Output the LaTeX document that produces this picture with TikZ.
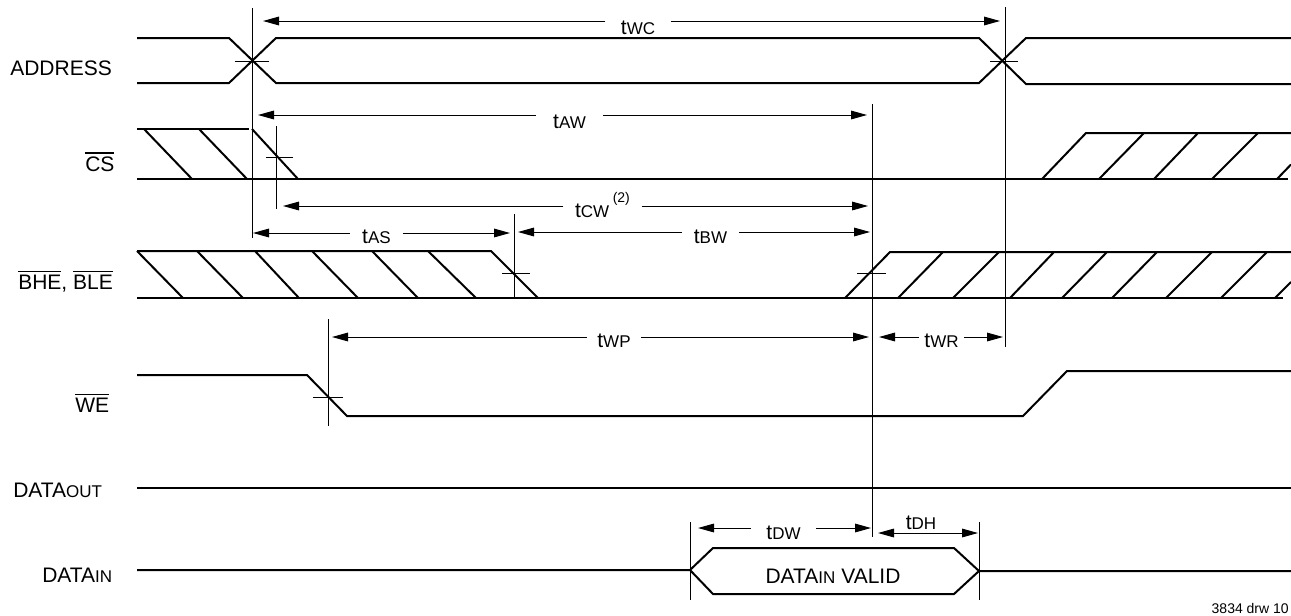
\documentclass[tikz,border=0pt]{standalone}
\usepackage{fontspec}
\setmainfont{Liberation Sans}
\usetikzlibrary{arrows.meta}
\newcommand\mainsz{\fontsize{15.75}{18}\selectfont}
\newcommand\sub[1]{{\fontsize{12.75}{14}\selectfont #1}}
\newcommand\ovl[1]{\begingroup\setbox0\hbox{#1}\rlap{\rule[\dimexpr\ht0+2pt\relax]{\wd0}{1pt}}\box0\endgroup}
\begin{document}
\begin{tikzpicture}[x=0.75pt,y=-0.75pt,
  sig/.style={line width=1.5pt},
  fine/.style={line width=0.75pt},
  arr/.style={fine,-{Triangle[length=12pt,width=6.5pt]}},
  arrb/.style={fine,{Triangle[length=12pt,width=6.5pt]}-{Triangle[length=12pt,width=6.5pt]}},
  lab/.style={inner sep=0,font=\mainsz,anchor=base west},
  dim/.style={inner ysep=0,anchor=base,font=\mainsz}]
\useasboundingbox (0,0) rectangle (1291,615);

% ---- labels
\node[lab] (lAddr) at (10,75) {ADDRESS};
\node[lab] (lCS) at (85,171) {\ovl{CS}};
\node[lab] (lBHE) at (18,289) {\ovl{BHE}, \ovl{BLE}};
\node[lab] (lWE) at (75,412) {\ovl{WE}};
\node[lab] (lDO) at (13,497) {DATA\sub{OUT}};
\node[lab] (lDI) at (42,582) {DATA\sub{IN}};

% ---- ADDRESS
\draw[sig] (137,38)--(229,38)--(276,83)--(979,83)--(1026,38)--(1291,38);
\draw[sig] (137,83)--(229,83)--(276,38)--(979,38)--(1026,84)--(1291,84);
\draw[fine] (235,61)--(269,61);
\draw[fine] (990,61)--(1018,61);

% ---- CS
\draw[sig] (137,129)--(249,129);
\draw[sig] (144,129)--(192,179);
\draw[sig] (199,129)--(247,179);
\draw[sig] (252,129)--(298,179);
\draw[sig] (137,179)--(1288,179);
\draw[sig] (1042,179)--(1086,133)--(1291,133);
\draw[sig] (1099,179)--(1144,133);
\draw[sig] (1154,179)--(1198,133);
\draw[sig] (1212,179)--(1258,133);
\draw[sig] (1277,179)--(1291,164.5);
\draw[fine] (266,157)--(293,157);

% ---- BHE, BLE
\draw[sig] (137,251)--(491,251)--(538,298);
\foreach \a/\b in {137/183,197/243,255/299,312/358,372/418,428/476}
  \draw[sig] (\a,251)--(\b,298);
\draw[sig] (137,298)--(1283,298);
\draw[sig] (845,298)--(890,252)--(1291,252);
\foreach \a/\b in {898/943,953/999,1010/1054,1062/1107,1112/1157,1166/1212,1221/1267}
  \draw[sig] (\a,298)--(\b,252);
\draw[sig] (1275,298)--(1291,282);
\draw[fine] (502,273)--(530,273);
\draw[fine] (857,273)--(886,273);

% ---- WE
\draw[sig] (137,375)--(307,375)--(347,416)--(1023,416)--(1067,371)--(1291,371);
\draw[fine] (313,397)--(343,397);

% ---- DATA OUT
\draw[sig] (137,488)--(1291,488);

% ---- DATA IN
\draw[sig] (137,570)--(690,570)--(713,548)--(954,548)--(979,571)--(1291,571);
\draw[sig] (690,570)--(713,594)--(954,594)--(979,571);
\node[dim,inner xsep=0] (valid) at (833,583) {DATA\sub{IN} VALID};

% ---- reference verticals
\draw[fine] (252,8)--(252,238);
\draw[fine] (1005,7)--(1005,347);
\draw[fine] (276,126)--(276,209);
\draw[fine] (872,104)--(872,537);
\draw[fine] (514,214)--(514,297);
\draw[fine] (328,319)--(328,426);
\draw[fine] (690,522)--(690,600);
\draw[fine] (979,522)--(979,600);

% ---- dimension arrows
\coordinate (wcL) at (263,21);   \coordinate (wcR) at (1000,21);
\node[dim,inner xsep=11.6pt] (twc) at (638,34) {t\sub{WC}};
\draw[arr] (twc.west|-wcL)--(wcL);
\draw[arr] (twc.east|-wcR)--(wcR);

\coordinate (awL) at (258,115);  \coordinate (awR) at (867,115);
\node[dim,inner xsep=12.7pt] (taw) at (569.5,128) {t\sub{AW}};
\draw[arr] (taw.west|-awL)--(awL);
\draw[arr] (taw.east|-awR)--(awR);

\coordinate (cwL) at (283,206);  \coordinate (cwR) at (868,206);
\node[dim,inner xsep=8.6pt] (tcw) at (602.5,217) {t\sub{CW}\,\raisebox{11pt}{\fontsize{10.5}{12}\selectfont(2)}};
\draw[arr] (tcw.west|-cwL)--(cwL);
\draw[arr] (tcw.east|-cwR)--(cwR);

\coordinate (asL) at (253,233);  \coordinate (asR) at (510,233);
\node[dim,inner xsep=9.2pt] (tas) at (376.5,243) {t\sub{AS}};
\draw[arr] (tas.west|-asL)--(asL);
\draw[arr] (tas.east|-asR)--(asR);

\coordinate (bwL) at (518,232);  \coordinate (bwR) at (870,232);
\node[dim,inner xsep=9pt] (tbw) at (710.5,243) {t\sub{BW}};
\draw[arr] (tbw.west|-bwL)--(bwL);
\draw[arr] (tbw.east|-bwR)--(bwR);

\coordinate (wpL) at (332,337);  \coordinate (wpR) at (869,337);
\node[dim,inner xsep=7.9pt] (twp) at (614,347) {t\sub{WP}};
\draw[arr] (twp.west|-wpL)--(wpL);
\draw[arr] (twp.east|-wpR)--(wpR);

\coordinate (wrL) at (879,337);  \coordinate (wrR) at (1003,337);
\node[dim,inner xsep=4.1pt] (twr) at (941.5,347) {t\sub{WR}};
\draw[arr] (twr.west|-wrL)--(wrL);
\draw[arr] (twr.east|-wrR)--(wrR);

\coordinate (dwL) at (698,528);  \coordinate (dwR) at (871,528);
\node[dim,inner xsep=11.6pt] (tdw) at (783.5,539) {t\sub{DW}};
\draw[arr] (tdw.west|-dwL)--(dwL);
\draw[arr] (tdw.east|-dwR)--(dwR);

\coordinate (dhL) at (878,533);  \coordinate (dhR) at (978,533);
\node[dim,inner xsep=0] (tdh) at (921,529) {t\sub{DH}};
\draw[arrb] (dhL)--(dhR);

% ---- drawing number
\node[inner sep=0,anchor=base east,font=\fontsize{10.5}{12}\selectfont] (drw) at (1289,613) {3834 drw 10};
\end{tikzpicture}
\end{document}
